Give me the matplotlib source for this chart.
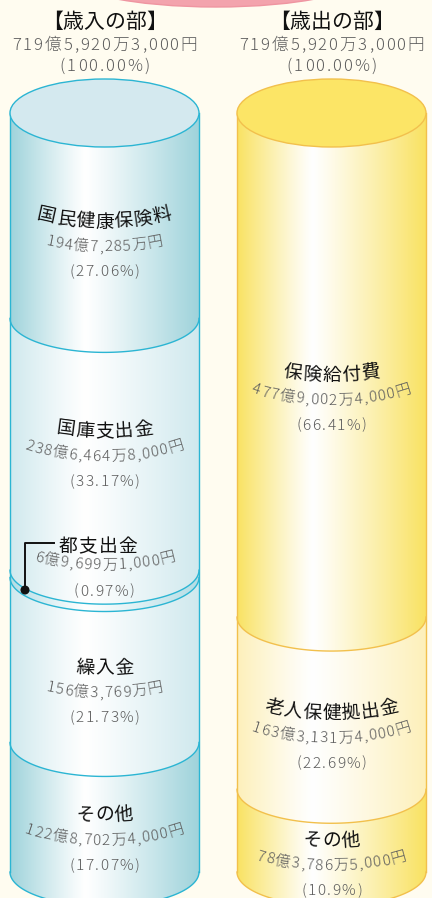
import numpy as np
import matplotlib
matplotlib.use('Agg')
import matplotlib.pyplot as plt
from matplotlib.patches import PathPatch, Ellipse, Circle
from matplotlib.path import Path
from matplotlib.font_manager import FontProperties
from matplotlib.textpath import TextToPath

FONT = 'Noto Sans CJK JP'
BG = '#fffcf0'

# 歳入の部
rev_titles = ['国民健康保険料', '国庫支出金', '都支出金', '繰入金', 'その他']
rev_amounts = ['194億7,285万円', '238億6,464万8,000円', '6億9,699万1,000円',
               '156億3,769万円', '122億8,702万4,000円']
rev_pcts = [27.06, 33.17, 0.97, 21.73, 17.07]

# 歳出の部
exp_titles = ['保険給付費', '老人保健拠出金', 'その他']
exp_amounts = ['477億9,002万4,000円', '163億3,131万4,000円', '78億3,786万5,000円']
exp_pcts = [66.41, 22.69, 10.9]

headings = ['【歳入の部】', '【歳出の部】']
total_amount = '719億5,920万3,000円'
total_pct = '100.00%'

# geometry (pixels)
W, H = 432, 898
RX, RY = 94.5, 34
TOP, BOTTOM = 113, 872
DPI = 100

ttp = TextToPath()


def advances(s, size, weight):
    fp = FontProperties(family=FONT, size=size, weight=weight)
    out = []
    for ch in s:
        w1 = ttp.get_text_width_height_descent(ch, fp, ismath=False)[0]
        w2 = ttp.get_text_width_height_descent(ch + ch, fp, ismath=False)[0]
        out.append((w2 - w1) * DPI / 72.0)
    return out


def arc_text(ax, cx, cy, s, size, color, weight='normal', track=0.0,
             curve=38.0, crx=110.0):
    adv = advances(s, size, weight)
    total = sum(adv) + track * (len(s) - 1)
    x = cx - total / 2.0
    base = cy + 0.36 * size * DPI / 72.0
    for ch, a in zip(s, adv):
        xc = x + a / 2.0
        dx = np.clip((xc - cx) / crx, -0.95, 0.95)
        root = np.sqrt(1 - dx * dx)
        y = base - curve * (1 - root)
        ang = np.degrees(np.arctan(curve * dx / (crx * root)))
        ax.text(xc, y, ch, fontsize=size, color=color, family=FONT,
                weight=weight, ha='center', va='baseline',
                rotation=ang, rotation_mode='anchor', zorder=10)
        x += a + track


def shade(edge, peak=0.4, n=300):
    t = np.linspace(0, 1, n)
    d = np.where(t < peak, (peak - t) / peak, (t - peak) / (1 - peak))
    w = 1 - d ** 1.1
    e = np.array(matplotlib.colors.to_rgb(edge))
    rgb = e[None, :] * (1 - w[:, None]) + w[:, None]
    return rgb[None, :, :]


def band_path(cx, y0, y1):
    t = np.linspace(np.pi, 0, 80)
    top = np.column_stack([cx + RX * np.cos(t), y0 + RY * np.sin(t)])
    bot = np.column_stack([cx + RX * np.cos(t[::-1]), y1 + RY * np.sin(t[::-1])])
    pts = np.vstack([top, bot, top[:1]])
    codes = [Path.MOVETO] + [Path.LINETO] * (len(pts) - 2) + [Path.CLOSEPOLY]
    return Path(pts, codes)


def front_arc(ax, cx, y, color):
    t = np.linspace(np.pi, 0, 80)
    ax.plot(cx + RX * np.cos(t), y + RY * np.sin(t), color=color, lw=1.0, zorder=5)


def cylinder(ax, cx, pcts, colors, top_color, line):
    scale = (BOTTOM - TOP) / sum(pcts)
    edges = [TOP]
    for p in pcts:
        edges.append(edges[-1] + p * scale)
    for i, c in enumerate(colors):
        path = band_path(cx, edges[i], edges[i + 1])
        patch = PathPatch(path, facecolor='none', edgecolor='none')
        ax.add_patch(patch)
        im = ax.imshow(shade(c), extent=(cx - RX, cx + RX, edges[i + 1] + RY, edges[i]),
                       aspect='auto', interpolation='bilinear', zorder=2)
        im.set_clip_path(patch)
        if i > 0:
            front_arc(ax, cx, edges[i], line)
    front_arc(ax, cx, edges[-1], line)
    ax.plot([cx - RX, cx - RX], [TOP, BOTTOM], color=line, lw=1.0, zorder=5)
    ax.plot([cx + RX, cx + RX], [TOP, BOTTOM], color=line, lw=1.0, zorder=5)
    ax.add_patch(Ellipse((cx, TOP), 2 * RX, 2 * RY, facecolor=top_color,
                         edgecolor=line, lw=1.0, zorder=6))
    return edges


def block(ax, cx, yc, title, amount, pct):
    arc_text(ax, cx, yc - 25, title, 13.5, '#111111', track=1.0)
    arc_text(ax, cx, yc, amount, 11, '#5c5c5c', weight='light', track=1.2)
    arc_text(ax, cx, yc + 25, '(' + str(pct) + '%)', 11, '#5c5c5c',
             weight='light', track=1.5, curve=0)


fig = plt.figure(figsize=(W / DPI, H / DPI), dpi=DPI)
fig.patch.set_facecolor(BG)
ax = fig.add_axes([0, 0, 1, 1])
ax.set_facecolor(BG)

LCX, RCX = 104.5, 331.5
teal, teal_l = '#9fd3db', '#d0e9ee'
yel, yel_l = '#f9e262', '#fdf0ba'

ax.add_patch(Ellipse((216, -25), 300, 64, facecolor='#f3a3ad',
                     edgecolor='#ef95a1', lw=1.0, zorder=3))

le = cylinder(ax, LCX, rev_pcts, [teal, teal_l, '#b3dde5', teal_l, teal],
              '#d4e9ef', '#2bb5d3')
re = cylinder(ax, RCX, exp_pcts, [yel, yel_l, yel], '#fce566', '#f2c04c')

# headings
for cx, h in zip([LCX, RCX], headings):
    arc_text(ax, cx, 20, h, 15, '#111111', curve=0)
    arc_text(ax, cx, 44, total_amount, 12, '#5c5c5c', weight='light',
             track=1.9, curve=0)
    arc_text(ax, cx, 65, '(' + total_pct + ')', 12, '#5c5c5c', weight='light',
             track=1.9, curve=0)

# revenue labels
for i in range(len(rev_titles)):
    mid = (le[i] + le[i + 1]) / 2.0 + 32
    if i == 0:
        mid -= 2
    if i == 1:
        mid -= 21
    if i == 2:
        continue
    block(ax, LCX, mid, rev_titles[i], rev_amounts[i], rev_pcts[i])

# 都支出金 callout
arc_text(ax, 98, 545, rev_titles[2], 13.5, '#111111', track=1.0, curve=0)
arc_text(ax, 105, 564, rev_amounts[2], 11, '#5c5c5c', weight='light', track=1.2)
arc_text(ax, 104, 590, '(' + str(rev_pcts[2]) + '%)', 11, '#5c5c5c',
         weight='light', track=1.5, curve=0)
ax.plot([25, 25, 54], [590, 543, 543], color='#111111', lw=1.4, zorder=8)
ax.add_patch(Circle((25, 590), 3.8, color='#111111', zorder=9))

# expenditure labels
for i in range(len(exp_titles)):
    mid = (re[i] + re[i + 1]) / 2.0 + 34
    block(ax, RCX, mid, exp_titles[i], exp_amounts[i], exp_pcts[i])

ax.set_xlim(0, W)
ax.set_ylim(H, 0)
ax.axis('off')
fig.savefig('out.png', dpi=DPI, facecolor=BG)
